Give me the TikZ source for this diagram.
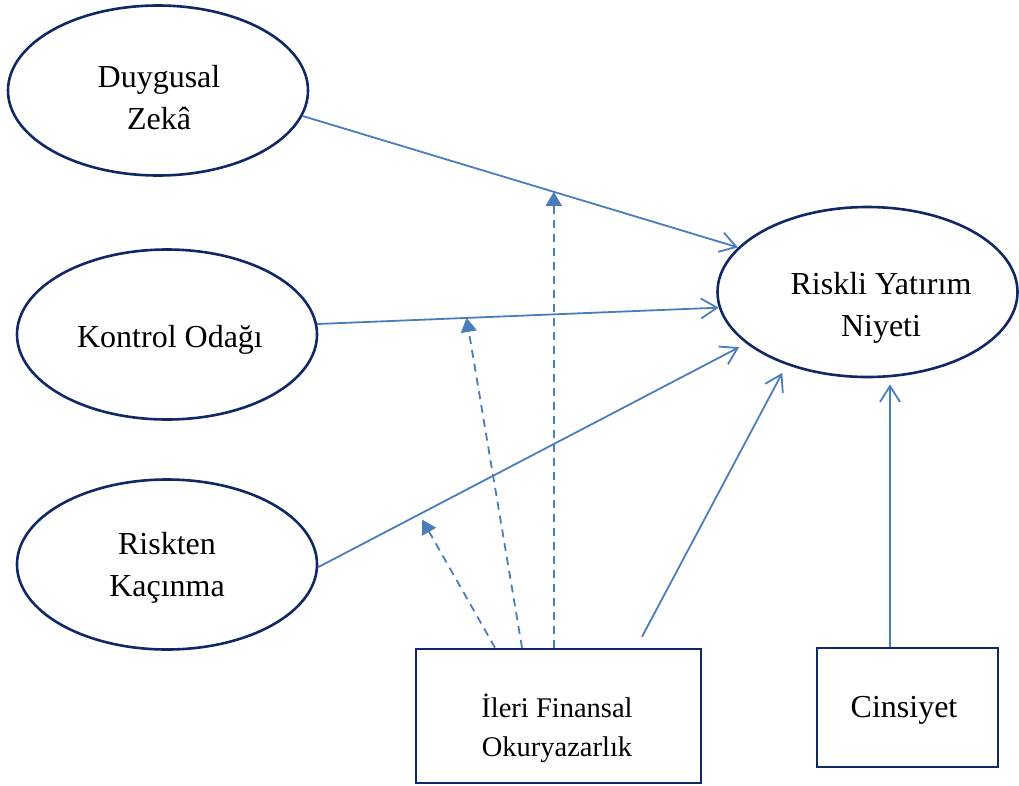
\documentclass[tikz,border=0pt]{standalone}
\usepackage{fontspec}
\setmainfont{Liberation Serif}
\usetikzlibrary{shapes.geometric,arrows.meta}
\definecolor{navy}{RGB}{16,40,100}
\definecolor{conn}{RGB}{74,126,187}
\begin{document}
\begin{tikzpicture}[x=1pt,y=-1pt,
 oval/.style={ellipse,draw=navy,line width=2.6pt,minimum width=300pt,minimum height=170pt,inner sep=0pt},
 boxnode/.style={rectangle,draw=navy,line width=2.6pt,inner sep=0pt},
 lbl/.style={align=center,font=\fontsize{32}{42}\selectfont,text=black,inner sep=0pt},
 slbl/.style={align=center,font=\fontsize{28.5}{39}\selectfont,text=black,inner sep=0pt},
 sarrow/.style={draw=conn,line width=1.8pt,-{Straight Barb[length=16pt,width=20pt,line width=1.8pt]}},
 darrow/.style={draw=conn,line width=1.8pt,dash pattern=on 8pt off 6pt,-{Triangle[length=14pt,width=16pt]}}]
\useasboundingbox (0,0) rectangle (1019,785);
\fill[white] (0,0) rectangle (1019,785);
% shapes
\node[oval] (dz) at (158,90.5) {};
\node[oval] (ko) at (167,334.5) {};
\node[oval] (rk) at (167,564.5) {};
\node[oval] (rn) at (867.5,292) {};
\node[boxnode,minimum width=285pt,minimum height=134pt] (ifo) at (558.5,716) {};
\node[boxnode,minimum width=181pt,minimum height=119pt] (cs) at (907.5,707.5) {};
% texts
\node[lbl] (tdz) at (159,98) {Duygusal\\Zekâ};
\node[lbl] (tko) at (170,340) {Kontrol Odağı};
\node[lbl] (trk) at (167,567.5) {Riskten\\Kaçınma};
\node[lbl] (trn) at (881,307.5) {Riskli Yatırım\\Niyeti};
\node[slbl] (tifo) at (557,728) {İleri Finansal\\Okuryazarlık};
\node[lbl] (tcs) at (904,710) {Cinsiyet};
% solid connectors
\draw[sarrow] (dz.-10) -- coordinate[pos=0.577] (m1) (rn.161);
\draw[sarrow] (ko.4) -- coordinate[pos=0.372] (m2) (rn.186);
\draw[sarrow,shorten >=8pt] (rk.-1) -- coordinate[pos=0.236] (m3) (rn.203.5);
\draw[sarrow,shorten >=9pt] ([xshift=83.5pt,yshift=11pt]ifo.north) -- (rn.222.7);
\draw[sarrow] ([xshift=-17.5pt]cs.north) -- ([xshift=22.5pt,yshift=-6pt]rn.south);
% dashed moderator connectors
\draw[darrow] (ifo.north -| m1) -- (m1);
\draw[darrow] ([xshift=-36.5pt]ifo.north) -- (m2);
\draw[darrow,shorten >=6pt] ([xshift=-63.5pt]ifo.north) -- (m3);
\end{tikzpicture}
\end{document}
